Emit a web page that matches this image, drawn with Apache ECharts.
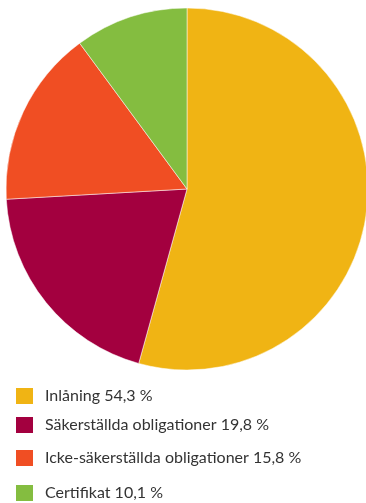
<!DOCTYPE html>
<html><head><meta charset="utf-8">
<script src="https://cdn.jsdelivr.net/npm/echarts@6/dist/echarts.min.js"></script>
<style>html,body{margin:0;padding:0;background:#fff}#c{width:366px;height:503px}</style>
</head><body><div id="c"></div>
<script>
var categories = ['Inlåning', 'Säkerställda obligationer', 'Icke-säkerställda obligationer', 'Certifikat'];
var values = [54.3, 19.8, 15.8, 10.1];
var colors = ['#F0B414', '#A3003F', '#F04E23', '#84BD40'];
var legendTops = [386, 415, 448, 483];

var chart = echarts.init(document.getElementById('c'), null, {renderer: 'canvas'});
function fmt(v) { return v.toFixed(1).replace('.', ',') + ' %'; }
var data = categories.map(function (c, i) { return {name: c, value: values[i], itemStyle: {color: colors[i]}}; });
var legends = categories.map(function (c, i) {
  return {
    data: [c], left: 14, top: legendTops[i], orient: 'vertical',
    itemWidth: 19, itemHeight: 18, itemGap: 0, icon: 'rect',
    formatter: function (n) { return n + ' ' + fmt(values[categories.indexOf(n)]); },
    textStyle: {fontFamily: 'Lato', fontSize: 16, color: '#333', padding: [0, 0, 0, 6]},
    selectedMode: false, padding: 0
  };
});
chart.setOption({
  animation: false,
  legend: legends,
  series: [{
    type: 'pie', center: [187, 189], radius: [0, 181], startAngle: 90, clockwise: true,
    label: {show: false}, labelLine: {show: false},
    itemStyle: {borderColor: '#fff', borderWidth: 0.5},
    emphasis: {disabled: true},
    data: data
  }]
});
</script></body></html>
